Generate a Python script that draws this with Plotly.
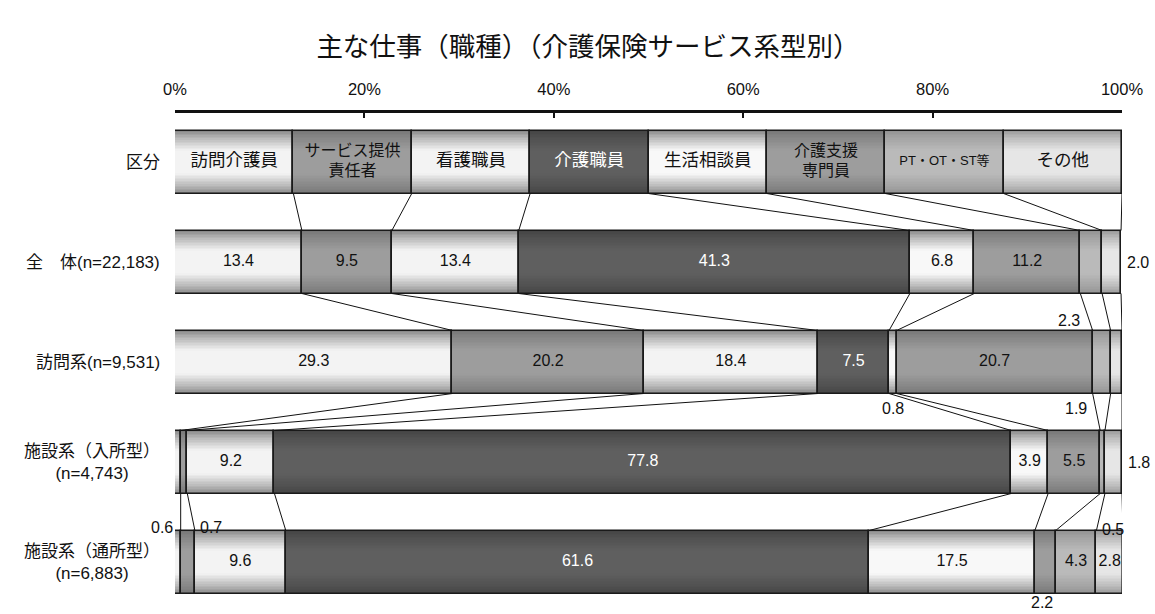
import numpy as np
import plotly.graph_objects as go

# ---------------- data ----------------
title_text = "主な仕事（職種）（介護保険サービス系型別）"
categories = ["訪問介護員", "サービス提供<br>責任者", "看護職員", "介護職員",
              "生活相談員", "介護支援<br>専門員", "PT・OT・ST等", "その他"]
header_label = "区分"
header_share = [12.5, 12.5, 12.5, 12.5, 12.5, 12.5, 12.5, 12.5]
group_labels = ["全　体(n=22,183)", "訪問系(n=9,531)",
                "施設系（入所型）<br>(n=4,743)", "施設系（通所型）<br>(n=6,883)"]
zentai = [13.4, 9.5, 13.4, 41.3, 6.8, 11.2, 2.3, 2.0]
houmon = [29.3, 20.2, 18.4, 7.5, 0.8, 20.7, 1.9, 1.2]
nyusho = [0.6, 0.7, 9.2, 77.8, 3.9, 5.5, 0.5, 1.8]
tsusho = [0.6, 1.5, 9.6, 61.6, 17.5, 2.2, 4.3, 2.8]
x_tick_values = [0, 20, 40, 60, 80, 100]
x_tick_text = ["0%", "20%", "40%", "60%", "80%", "100%"]

# ---------------- styles ----------------
FONT = "Liberation Sans, Arial, Noto Sans CJK JP, sans-serif"
edge_colors = ["#8a8a8a", "#777777", "#8a8a8a", "#454545",
               "#8a8a8a", "#777777", "#939393", "#9a9a9a"]
center_colors = ["#f3f3f3", "#9d9d9d", "#f3f3f3", "#5f5f5f",
                 "#f8f8f8", "#9d9d9d", "#bababa", "#e6e6e6"]
text_colors = ["#111111", "#111111", "#111111", "#ffffff",
               "#111111", "#111111", "#111111", "#111111"]
header_font_sizes = [17.5, 16, 17.5, 17.5, 17.5, 16, 13, 17.5]
VALUE_SIZE = 16
LABEL_SIZE = 17
BAR_W = 0.63
N_LAYERS = 20

rows = [header_share, zentai, houmon, nyusho, tsusho]
row_labels = [header_label] + group_labels

# outside-label placements: (row, cat) -> (ref, xanchor, xshift, dy)
outside = {
    (1, 6): ("start", "right", 1, 0.58),
    (1, 7): ("end", "left", 5, 0.0),
    (2, 4): ("mid", "center", 0, 0.46),
    (2, 6): ("start", "right", -5, 0.46),
    (2, 7): ("end", "left", 5, 0.0),
    (3, 0): ("start", "right", -1, 0.65),
    (3, 1): ("end", "left", 12, 0.65),
    (3, 6): ("start", "left", 1, 0.67),
    (3, 7): ("end", "left", 5, 0.0),
    (4, 0): ("start", "right", 3, 0.41),
    (4, 1): ("start", "left", 6, 0.41),
    (4, 5): ("mid", "center", -3, 0.40),
}


def hex2rgb(h):
    h = h.lstrip("#")
    return np.array([int(h[i:i + 2], 16) for i in (0, 2, 4)], dtype=float)


def mix(a, b, t):
    c = hex2rgb(a) * (1 - t) + hex2rgb(b) * t
    return "rgb(%d,%d,%d)" % tuple(np.round(c))


# flatten segments
seg_y, seg_x, seg_base, seg_cat = [], [], [], []
bounds = []
for r, vals in enumerate(rows):
    cum = np.concatenate([[0.0], np.cumsum(vals)])
    bounds.append(cum)
    for c, v in enumerate(vals):
        seg_y.append(r)
        seg_x.append(v)
        seg_base.append(cum[c])
        seg_cat.append(c)

fig = go.Figure()

# gradient layers (stacked narrower bars)
for k in range(N_LAYERS):
    w = BAR_W * (1 - k / N_LAYERS)
    d = k / N_LAYERS  # 0 at edge -> ~1 at centre
    g = min(1.0, d / 0.62) ** 0.8
    cols = [mix(edge_colors[c], center_colors[c], g) for c in seg_cat]
    fig.add_trace(go.Bar(orientation="h", y=seg_y, x=seg_x, base=seg_base,
                         width=w, marker=dict(color=cols, line=dict(width=0)),
                         hoverinfo="skip", showlegend=False))

# outlines
fig.add_trace(go.Bar(orientation="h", y=seg_y, x=seg_x, base=seg_base,
                     width=BAR_W,
                     marker=dict(color="rgba(0,0,0,0)",
                                 line=dict(color="#1a1a1a", width=1.6)),
                     hoverinfo="skip", showlegend=False))

# connector lines between rows
lx, ly = [], []
for r in range(len(rows) - 1):
    for c in range(1, len(rows[r]) + 1):
        lx += [bounds[r][c], bounds[r + 1][c], None]
        ly += [r + BAR_W / 2, r + 1 - BAR_W / 2, None]
fig.add_trace(go.Scatter(x=lx, y=ly, mode="lines",
                         line=dict(color="#111111", width=1),
                         hoverinfo="skip", showlegend=False))

# inside texts
tx, ty, tt, tcol, tsize = [], [], [], [], []
for r, vals in enumerate(rows):
    for c, v in enumerate(vals):
        if r == 0:
            label, size = categories[c], header_font_sizes[c]
        else:
            if (r, c) in outside:
                continue
            label, size = f"{v:.1f}", VALUE_SIZE
        tx.append(bounds[r][c] + v / 2)
        ty.append(r)
        tt.append(label)
        tcol.append(text_colors[c])
        tsize.append(size)
fig.add_trace(go.Scatter(x=tx, y=ty, text=tt, mode="text",
                         textposition="middle center",
                         textfont=dict(color=tcol, size=tsize, family=FONT),
                         hoverinfo="skip", showlegend=False, cliponaxis=False))

annotations = []
# outside labels
for (r, c), (ref, xa, xs, dy) in outside.items():
    v = rows[r][c]
    x0, x1 = bounds[r][c], bounds[r][c + 1]
    xp = {"start": x0, "end": x1, "mid": (x0 + x1) / 2}[ref]
    annotations.append(dict(x=xp, y=r + dy, xref="x", yref="y", text=f"{v:.1f}",
                            showarrow=False, xanchor=xa, yanchor="middle",
                            xshift=xs, borderpad=0,
                            font=dict(size=VALUE_SIZE, color="#111111", family=FONT)))

# row labels
for r, lab in enumerate(row_labels):
    annotations.append(dict(x=-0.014, y=r, xref="paper", yref="y", text=lab,
                            showarrow=False, xanchor="right", yanchor="middle",
                            align="center",
                            font=dict(size=LABEL_SIZE, color="#111111", family=FONT)))

fig.update_layout(
    width=1155, height=614,
    margin=dict(l=175, r=33, t=113, b=12),
    paper_bgcolor="white", plot_bgcolor="white",
    barmode="overlay", bargap=0,
    title=dict(text=title_text, x=588 / 1155, xref="container", xanchor="center",
               y=1 - 47 / 614, yref="container", yanchor="middle",
               font=dict(size=26.5, color="#111111", family=FONT)),
    xaxis=dict(side="top", range=[0, 100], tickmode="array",
               tickvals=x_tick_values, ticktext=x_tick_text,
               ticks="inside", ticklen=5, tickwidth=1.5,
               tickcolor="#111111", showline=True, linewidth=3,
               linecolor="#111111", showgrid=False, zeroline=False,
               ticklabelstandoff=8,
               tickfont=dict(size=16.5, color="#111111", family=FONT)),
    yaxis=dict(range=[4.40, -0.49], showticklabels=False, showgrid=False,
               zeroline=False, showline=False, ticks=""),
    annotations=annotations,
    font=dict(family=FONT),
)

fig.write_html("out.html", config={"displayModeBar": False},
               post_script="document.body.style.margin='0';"
                           "document.body.style.overflow='hidden';")
